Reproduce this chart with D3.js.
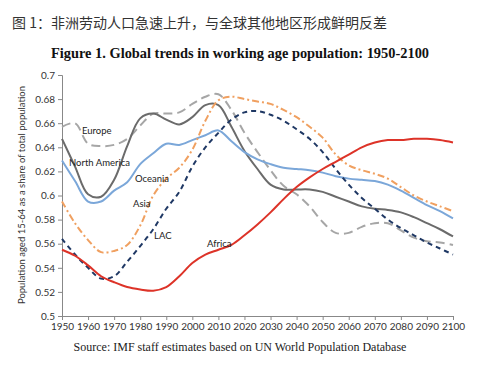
<!DOCTYPE html>
<html><head><meta charset="utf-8">
<script src="https://cdn.jsdelivr.net/npm/d3@7"></script>
<style>body{margin:0;background:#fff}svg{display:block}</style>
</head><body>
<svg id="c" width="497" height="365"></svg>
<script>
const years = d3.range(1950, 2101, 5);
const europe = [0.657,0.660,0.643,0.641,0.642,0.647,0.658,0.668,0.668,0.669,0.676,0.682,0.684,0.671,0.652,0.636,0.621,0.608,0.601,0.591,0.578,0.569,0.569,0.574,0.577,0.577,0.571,0.565,0.562,0.561,0.559];
const northAmerica = [0.647,0.624,0.601,0.599,0.613,0.641,0.664,0.668,0.663,0.659,0.665,0.675,0.675,0.657,0.637,0.622,0.609,0.605,0.605,0.605,0.603,0.599,0.595,0.591,0.589,0.588,0.586,0.582,0.577,0.572,0.566];
const oceania = [0.629,0.612,0.595,0.595,0.604,0.611,0.626,0.635,0.643,0.642,0.646,0.650,0.654,0.645,0.636,0.630,0.626,0.623,0.622,0.621,0.619,0.616,0.614,0.613,0.612,0.609,0.604,0.598,0.592,0.587,0.581];
const asia = [0.595,0.577,0.563,0.553,0.554,0.559,0.575,0.600,0.614,0.623,0.638,0.662,0.679,0.682,0.680,0.678,0.676,0.671,0.665,0.657,0.648,0.634,0.625,0.621,0.618,0.614,0.607,0.600,0.595,0.591,0.587];
const lac = [0.564,0.551,0.540,0.531,0.533,0.545,0.558,0.572,0.589,0.603,0.624,0.640,0.652,0.663,0.669,0.670,0.667,0.662,0.655,0.647,0.636,0.622,0.609,0.598,0.589,0.580,0.573,0.567,0.561,0.556,0.551];
const africa = [0.555,0.550,0.542,0.533,0.528,0.524,0.522,0.521,0.524,0.533,0.544,0.551,0.555,0.559,0.567,0.576,0.586,0.597,0.607,0.615,0.622,0.628,0.634,0.640,0.644,0.646,0.646,0.647,0.647,0.646,0.644];
const yTicks = [0.5,0.52,0.54,0.56,0.58,0.6,0.62,0.64,0.66,0.68,0.7];
const xTicks = d3.range(1950, 2101, 10);

const series = [
  {name:"Europe", values:europe, color:"#a6a6a6", dash:"9,5", w:2, lx:82, ly:130},
  {name:"North America", values:northAmerica, color:"#6b6b6b", dash:null, w:2, lx:69, ly:162},
  {name:"Oceania", values:oceania, color:"#7ba7d9", dash:null, w:2, lx:135, ly:178},
  {name:"Asia", values:asia, color:"#f0a060", dash:"7,3,2,3", w:2, lx:133, ly:203},
  {name:"LAC", values:lac, color:"#1f3864", dash:"5,4", w:2, lx:154, ly:235},
  {name:"Africa", values:africa, color:"#dd3328", dash:null, w:2, lx:207, ly:243}
];

const svg = d3.select("#c");
const x = d3.scaleLinear().domain([1950,2100]).range([62,453]);
const y = d3.scaleLinear().domain([0.5,0.7]).range([316,75]);

svg.append("text").attr("x",12).attr("y",28)
  .attr("font-family","'Noto Sans CJK SC', sans-serif").attr("font-size",14).attr("fill","#333")
  .text("图 1：非洲劳动人口急速上升，与全球其他地区形成鲜明反差");
svg.append("text").attr("x",240).attr("y",58).attr("text-anchor","middle")
  .attr("font-family","'Liberation Serif', serif").attr("font-weight","bold").attr("font-size",14.4).attr("fill","#111")
  .text("Figure 1. Global trends in working age population: 1950-2100");
svg.append("text").attr("x",240).attr("y",351).attr("text-anchor","middle")
  .attr("font-family","'Liberation Serif', serif").attr("font-size",12).attr("fill","#222")
  .text("Source: IMF staff estimates based on UN World Population Database");

const yAxis = svg.append("g").attr("transform","translate(62,0)")
  .call(d3.axisLeft(y).tickValues(yTicks).tickSize(4).tickFormat(d=>d3.format("")(+d.toFixed(2))));
const xAxis = svg.append("g").attr("transform","translate(0,316)")
  .call(d3.axisBottom(x).tickValues(xTicks).tickSize(4).tickFormat(d3.format("d")));
[yAxis,xAxis].forEach(g=>{
  g.select(".domain").attr("stroke","#888");
  g.selectAll(".tick line").attr("stroke","#888");
  g.selectAll("text").attr("font-family","Lato, 'Open Sans', sans-serif").attr("font-size",10).attr("fill","#333");
});
yAxis.selectAll("text").attr("x",-7);
xAxis.selectAll("text").attr("y",7);

svg.append("text").attr("transform","translate(25,195) rotate(-90)").attr("text-anchor","middle")
  .attr("font-family","Lato, 'Open Sans', sans-serif").attr("font-size",9.5).attr("fill","#333")
  .text("Population aged 15-64 as a share of total population");

const line = d3.line().x((d,i)=>x(years[i])).y(d=>y(d)).curve(d3.curveCatmullRom.alpha(0.5));
series.forEach(s=>{
  svg.append("path").datum(s.values).attr("d",line).attr("fill","none")
    .attr("stroke",s.color).attr("stroke-width",s.w).attr("stroke-dasharray",s.dash);
});
series.forEach(s=>{
  svg.append("text").attr("x",s.lx).attr("y",s.ly+3.5)
    .attr("font-family","Lato, 'Open Sans', sans-serif").attr("font-size",9.5).attr("fill","#222")
    .text(s.name);
});
</script>
</body></html>
